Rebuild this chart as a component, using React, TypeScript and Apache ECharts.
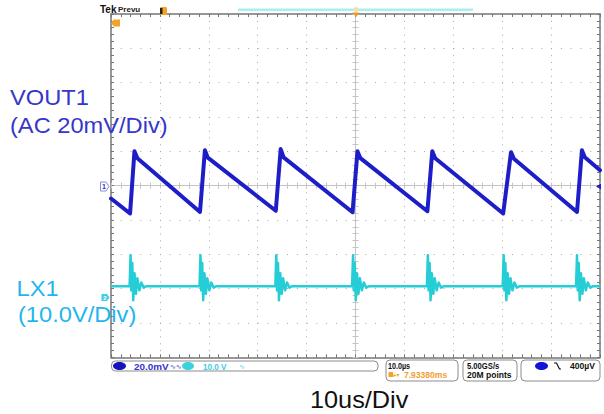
import React, { useEffect, useRef } from "react";
import * as echarts from "echarts";

// ---- data ----
// Horizontal: 10 us/div, 10 divisions
const timeAxisMinUs = 0;
const timeAxisMaxUs = 100;
const timeDivUs = 10;
// CH1 VOUT1 (AC, 20 mV/div) sawtooth vertices
const vout1TimeUs = [0, 3.9, 4.8, 5.4, 18.2, 19.2, 19.8, 33.7, 34.7, 35.3, 49.4, 50.4, 51.0, 64.7, 65.7, 66.3, 80.2, 81.8, 82.4, 95.3, 96.3, 96.9, 100];
const vout1mV = [-7.5, -16.2, 20.1, 16.0, -15.3, 20.6, 16.3, -14.6, 21.3, 16.5, -15.5, 20.1, 16.0, -14.9, 20.1, 16.0, -16.2, 19.5, 15.7, -15.3, 20.6, 16.5, 9.0];
const vout1VoltsPerDiv = 20; // mV
// CH2 LX1 (10 V/div), ground marker 3.25 div below centre
const lxVoltsPerDiv = 10;
const lxGroundDiv = -3.25;
const lxBaselineV = 3.2;
const lxSpikeTimesUs = [4.0, 18.3, 33.8, 49.5, 64.8, 80.3, 95.3];
const lxSpikeShapeDtUs = [-0.2, 0, 0.15, 0.35, 0.55, 0.8, 1.1, 1.4, 1.8, 2.2, 2.7, 3.2];
const lxSpikeShapeV = [3.2, 12.2, 2.0, 10.0, -0.9, 7.0, 1.0, 5.5, 2.0, 4.3, 2.8, 3.2];

const BORDER = "#767676";
const CENTER = "#c4c4c4";
const DOT = "#a6a6a6";
const FONT = '"Liberation Sans", Arial, sans-serif';

function buildOption() {
  const voutData = vout1TimeUs.map((t, i) => [t, vout1mV[i]]);
  const lxData: number[][] = [[timeAxisMinUs, lxBaselineV]];
  lxSpikeTimesUs.forEach((t0) => {
    lxSpikeShapeDtUs.forEach((dt, j) => lxData.push([t0 + dt, lxSpikeShapeV[j]]));
  });
  lxData.push([timeAxisMaxUs, lxBaselineV]);

  const vMin = -5 * vout1VoltsPerDiv;
  const vMax = 5 * vout1VoltsPerDiv;
  const lxMin = (-5 - lxGroundDiv) * lxVoltsPerDiv;
  const lxMax = (5 - lxGroundDiv) * lxVoltsPerDiv;

  const tick = (inside: boolean, color: string) => ({
    axisTick: { show: true, inside, length: 3, lineStyle: { color, width: 1 } },
    minorTick: { show: true, splitNumber: 5, length: 3, lineStyle: { color, width: 1 } },
  });
  const baseX = {
    type: "value",
    min: timeAxisMinUs,
    max: timeAxisMaxUs,
    interval: timeDivUs,
    axisLabel: { show: false },
    splitLine: { show: false },
  };
  const baseY = {
    type: "value",
    min: vMin,
    max: vMax,
    interval: vout1VoltsPerDiv,
    axisLabel: { show: false },
    splitLine: { show: false },
  };
  const borderLine = { show: true, onZero: false, lineStyle: { color: BORDER, width: 1.5 } };
  const centerLine = { show: true, onZero: false, lineStyle: { color: CENTER, width: 1 } };
  const noLine = { show: false, onZero: false };

  const txt = (x: number, y: number, text: string, fill: string, font: string, scaleX = 1, align = "left") => ({
    type: "text",
    x,
    y,
    scaleX,
    style: { text, fill, font, align, verticalAlign: "middle", textAlign: align, textVerticalAlign: "middle" },
    z: 50,
  });
  const sFont = `bold 9px ${FONT}`;

  const graphic: any[] = [
    // top header
    txt(100, 9, "Tek", "#111", `bold 10px ${FONT}`),
    txt(118, 9.5, "Prevu", "#222", `bold 8px ${FONT}`),
    { type: "rect", shape: { x: 238, y: 8.5, width: 235, height: 2.5 }, style: { fill: "#a9eff2" }, z: 50 },
    { type: "rect", shape: { x: 160, y: 7, width: 7, height: 8, r: 1 }, style: { fill: "#f2a427" }, z: 50 },
    { type: "rect", shape: { x: 160, y: 8, width: 2.5, height: 6 }, style: { fill: "#222" }, z: 51 },
    { type: "polygon", shape: { points: [[111, 23], [114, 19.5], [120, 19.5], [120, 26.5], [114, 26.5]] }, style: { fill: "#f2a427" }, z: 50 },
    { type: "circle", shape: { cx: 356, cy: 9.5, r: 2.5 }, style: { fill: "#f9dcae" }, z: 50 },
    { type: "polygon", shape: { points: [[352.5, 12.5], [359.5, 12.5], [356, 17]] }, style: { fill: "#ee9a1a" }, z: 50 },
    // channel markers
    { type: "polygon", shape: { points: [[100.5, 182], [106, 182], [109, 186.5], [106, 191], [100.5, 191]] }, style: { fill: "#fff", stroke: "#8a8ad8", lineWidth: 1 }, z: 50 },
    txt(104, 186.5, "1", "#3030c0", `bold 7px ${FONT}`, 1, "center"),
    { type: "polygon", shape: { points: [[101.5, 294], [107, 294], [109.5, 297.5], [107, 301], [101.5, 301]] }, style: { fill: "#3ccfe0" }, z: 50 },
    txt(105, 297.5, "2", "#fff", `bold 6px ${FONT}`, 1, "center"),
    { type: "polygon", shape: { points: [[596, 186.5], [601, 183.5], [601, 189.5]] }, style: { fill: "#2020d0" }, z: 50 },
    // status bar
    { type: "rect", shape: { x: 111.5, y: 361, width: 266.5, height: 10, r: 4 }, style: { fill: "#fff", stroke: "#8c8c8c", lineWidth: 1 }, z: 50 },
    { type: "ellipse", shape: { cx: 119.5, cy: 366, rx: 6.5, ry: 4 }, style: { fill: "#1414b8" }, z: 51 },
    txt(119.5, 366.5, "1", "#000060", `bold 7px ${FONT}`, 1, "center"),
    txt(134, 366.5, "20.0mV", "#3232d2", sFont, 1.1),
    txt(170, 366.5, "∿∿", "#3232d2", `7px "DejaVu Sans"`),
    { type: "ellipse", shape: { cx: 188, cy: 366, rx: 6, ry: 4 }, style: { fill: "#3ad2dc" }, z: 51 },
    txt(188, 366.5, "2", "#004450", `bold 7px ${FONT}`, 1, "center"),
    txt(203, 366.5, "10.0 V", "#38d0e0", sFont, 0.9),
    txt(239, 366.5, "∿", "#38d0e0", `7px "DejaVu Sans"`),
    { type: "rect", shape: { x: 386, y: 360, width: 72, height: 21, r: 4 }, style: { fill: "#fff", stroke: "#8c8c8c", lineWidth: 1 }, z: 50 },
    txt(388, 366, "10.0µs", "#111", sFont, 0.8),
    { type: "rect", shape: { x: 388.5, y: 372, width: 4.5, height: 5, r: 0.5 }, style: { fill: "#f2a427" }, z: 51 },
    txt(393.5, 374.5, "▸▾", "#f2a427", `6px "DejaVu Sans"`),
    txt(404, 375, "7.93380ms", "#f2a030", sFont, 0.95),
    { type: "rect", shape: { x: 463, y: 360, width: 54, height: 21, r: 4 }, style: { fill: "#fff", stroke: "#8c8c8c", lineWidth: 1 }, z: 50 },
    txt(467, 366, "5.00GS/s", "#111", sFont, 0.85),
    txt(467, 375, "20M points", "#111", sFont, 0.95),
    { type: "rect", shape: { x: 521, y: 360, width: 79, height: 21, r: 4 }, style: { fill: "#fff", stroke: "#8c8c8c", lineWidth: 1 }, z: 50 },
    { type: "ellipse", shape: { cx: 541.5, cy: 366, rx: 6.5, ry: 4 }, style: { fill: "#1212d8" }, z: 51 },
    txt(541.5, 366.5, "1", "#000070", `bold 7px ${FONT}`, 1, "center"),
    { type: "polyline", shape: { points: [[554, 363], [556.5, 363], [559.5, 369], [561, 369]] }, style: { stroke: "#111", lineWidth: 1.2, fill: null }, z: 51 },
    txt(570, 366, "400µV", "#111", sFont, 0.95),
    // big annotations
    txt(10, 98.3, "VOUT1", "#3636c8", `21.5px ${FONT}`, 1.1),
    txt(10, 125.8, "(AC 20mV/Div)", "#3636c8", `21.5px ${FONT}`, 1.1),
    txt(16.5, 289.2, "LX1", "#1fb6ee", `21.5px ${FONT}`, 1.1),
    txt(18, 315, "(10.0V/Div)", "#1fb6ee", `21.5px ${FONT}`, 1.1),
    txt(310, 400, "10us/Div", "#111", `23px ${FONT}`, 1.1),
  ];

  return {
    animation: false,
    backgroundColor: "#ffffff",
    grid: { left: 111, top: 14, width: 489, height: 343.3, containLabel: false },
    xAxis: [
      { ...baseX, position: "bottom", axisLine: borderLine, ...tick(true, BORDER), splitLine: { show: true, lineStyle: { color: DOT, width: 1, type: [1, 5.86] } } },
      { ...baseX, position: "top", axisLine: borderLine, ...tick(true, BORDER) },
      { ...baseX, position: "bottom", offset: -171.65, axisLine: centerLine, ...tick(true, CENTER) },
      { ...baseX, position: "bottom", offset: -171.65, axisLine: noLine, ...tick(false, CENTER) },
    ],
    yAxis: [
      { ...baseY, position: "left", axisLine: borderLine, ...tick(true, BORDER), splitLine: { show: true, lineStyle: { color: DOT, width: 1, type: [1, 8.78] } } },
      { ...baseY, position: "right", axisLine: borderLine, ...tick(true, BORDER) },
      { type: "value", min: lxMin, max: lxMax, show: false, splitLine: { show: false } },
      { ...baseY, position: "left", offset: -244.5, axisLine: centerLine, ...tick(true, CENTER) },
      { ...baseY, position: "left", offset: -244.5, axisLine: noLine, ...tick(false, CENTER) },
    ],
    series: [
      {
        type: "line",
        name: "VOUT1",
        xAxisIndex: 0,
        yAxisIndex: 0,
        data: voutData,
        symbol: "none",
        lineStyle: { color: "#1e1ec8", width: 4, join: "round", cap: "round" },
        z: 6,
      },
      {
        type: "line",
        name: "LX1",
        xAxisIndex: 0,
        yAxisIndex: 2,
        data: lxData,
        symbol: "none",
        lineStyle: { color: "#25cdd6", width: 2.5, join: "round" },
        z: 5,
      },
    ],
    graphic,
  };
}

export default function App() {
  const ref = useRef<HTMLDivElement>(null);
  useEffect(() => {
    if (!ref.current) return;
    const chart = echarts.init(ref.current, undefined, { renderer: "svg" });
    chart.setOption(buildOption() as any);
    return () => chart.dispose();
  }, []);
  return <div ref={ref} style={{ position: "fixed", left: 0, top: 0, width: 604, height: 414, background: "#fff" }} />;
}
